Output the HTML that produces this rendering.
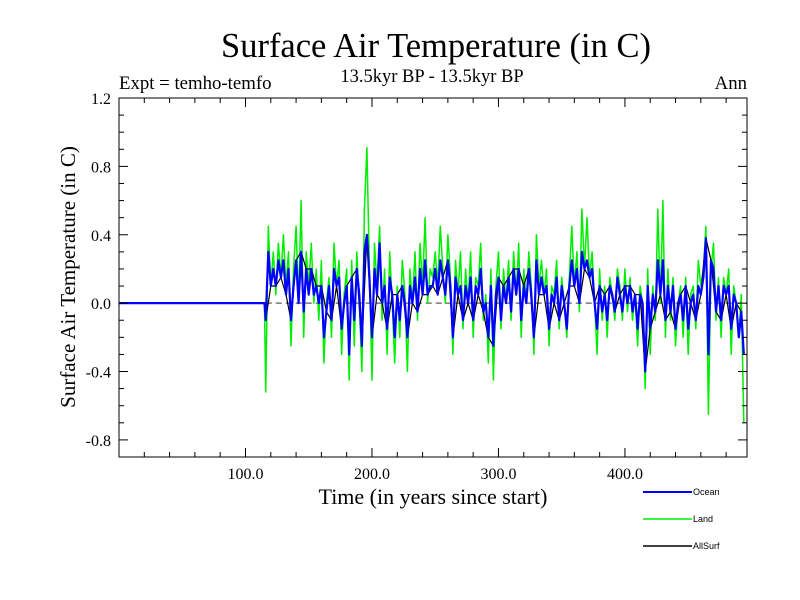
<!DOCTYPE html>
<html><head><meta charset="utf-8"><style>
body{margin:0;background:#fff;}
svg{display:block;}
</style></head><body>
<svg id="chart" width="800" height="600" xmlns="http://www.w3.org/2000/svg">
<text x="436" y="57" font-family="Liberation Serif, serif" font-size="34.5" text-anchor="middle">Surface Air Temperature (in C)</text>
<text x="432" y="82" font-family="Liberation Serif, serif" font-size="18.5" text-anchor="middle">13.5kyr BP - 13.5kyr BP</text>
<text x="119" y="89" font-family="Liberation Serif, serif" font-size="18.8">Expt = temho-temfo</text>
<text x="747" y="89" font-family="Liberation Serif, serif" font-size="18.8" text-anchor="end">Ann</text>
<text x="433" y="504" font-family="Liberation Serif, serif" font-size="22" text-anchor="middle">Time (in years since start)</text>
<text transform="translate(75,277) rotate(-90)" font-family="Liberation Serif, serif" font-size="21" text-anchor="middle">Surface Air Temperature (in C)</text>
<g id="plot"></g>
<g id="axes"></g>
<g id="legend" font-family="Liberation Sans, sans-serif" font-size="9">
<line x1="643" y1="492" x2="692" y2="492" stroke="#0000ff" stroke-width="2"/>
<text x="693" y="495">Ocean</text>
<line x1="643" y1="519" x2="692" y2="519" stroke="#00ee00" stroke-width="1.5"/>
<text x="693" y="522">Land</text>
<line x1="643" y1="546" x2="692" y2="546" stroke="#000" stroke-width="1.5"/>
<text x="693" y="549">AllSurf</text>
</g>
</svg>
<script>
const startYear = 116;
const stepYears = 2;
const land = [-0.52,0.45,0.1,0.3,0.05,0.35,0.15,0.4,0.1,0.3,
-0.25,0.2,0.45,0.0,0.6,-0.2,0.3,0.1,0.35,0.0,
0.2,-0.1,0.25,-0.35,0.0,0.15,-0.2,0.35,0.1,0.25,
-0.3,0.05,0.2,-0.45,0.25,-0.25,0.3,0.0,-0.4,0.55,
0.91,0.2,-0.45,0.35,0.1,0.45,-0.1,0.2,-0.3,0.3,
0.0,-0.35,0.1,-0.2,0.25,0.05,-0.4,0.2,0.0,0.3,
-0.1,0.35,0.1,0.5,0.0,0.2,0.15,0.3,0.1,0.45,
0.2,0.0,0.4,0.15,-0.3,0.25,0.05,0.3,-0.15,0.2,
0.0,0.3,-0.2,0.15,0.1,0.35,-0.1,0.05,-0.35,0.2,
-0.45,0.1,0.3,-0.15,0.2,0.0,0.25,-0.1,0.3,0.05,
0.35,-0.2,0.2,0.0,0.3,0.1,-0.3,0.4,0.1,0.25,
0.05,0.2,-0.25,0.1,0.05,0.25,-0.15,0.15,0.0,-0.2,
0.15,0.45,0.1,0.3,-0.05,0.55,0.2,0.5,0.15,0.3,
0.0,-0.3,0.2,-0.1,0.1,-0.2,0.15,0.05,-0.1,0.2,
0.1,-0.1,0.2,-0.05,0.15,-0.1,0.05,-0.25,0.1,0.0,
-0.5,0.2,-0.3,0.1,-0.1,0.55,0.0,0.6,-0.2,0.2,
-0.1,0.15,-0.25,0.0,0.1,-0.2,0.15,-0.3,0.05,0.1,
-0.15,0.25,0.1,0.2,0.45,-0.65,0.2,0.35,-0.1,0.15,
-0.2,0.15,0.05,0.2,-0.3,0.1,0.0,-0.2,0.05,-0.7];
const ocean = [-0.1,0.3,0.1,0.2,0.1,0.25,0.15,0.25,0.05,0.2,
-0.1,0.1,0.25,0.0,0.3,-0.05,0.2,0.05,0.2,0.05,
0.1,0.0,0.1,-0.2,-0.05,0.1,-0.1,0.2,0.1,0.15,
-0.15,0.0,0.1,-0.3,0.15,-0.1,0.2,0.05,-0.25,0.3,
0.4,0.15,-0.2,0.2,0.05,0.35,0.0,0.1,-0.15,0.15,
0.05,-0.2,0.05,-0.1,0.1,0.0,-0.2,0.1,0.0,0.15,
-0.05,0.2,0.05,0.25,0.05,0.1,0.1,0.2,0.05,0.25,
0.15,0.05,0.25,0.1,-0.2,0.15,0.05,0.1,-0.1,0.1,
0.0,0.15,-0.1,0.1,0.05,0.2,-0.05,0.0,-0.2,0.1,
-0.25,0.05,0.15,-0.1,0.1,0.0,0.15,-0.05,0.2,0.05,
0.2,-0.1,0.1,0.0,0.2,0.05,-0.2,0.25,0.05,0.15,
0.05,0.1,-0.15,0.05,0.0,0.15,-0.1,0.1,0.0,-0.15,
0.1,0.25,0.1,0.2,0.0,0.3,0.2,0.25,0.15,0.2,
0.0,-0.15,0.1,-0.05,0.05,-0.1,0.1,0.05,-0.05,0.15,
0.05,-0.05,0.1,0.0,0.1,-0.05,0.05,-0.15,0.05,0.0,
-0.4,0.1,-0.15,0.05,-0.05,0.25,0.05,0.25,-0.1,0.1,
-0.05,0.1,-0.15,0.0,0.05,-0.1,0.1,-0.15,0.0,0.05,
-0.1,0.1,0.05,0.15,0.38,-0.3,0.25,0.2,-0.05,0.1,
-0.1,0.1,0.05,0.1,-0.15,0.05,0.0,-0.2,-0.05,-0.3];
const allsurfStep = 4;
const allsurf = [-0.1,0.1,0.1,0.15,0.05,
-0.1,0.25,0.3,0.2,0.2,
0.1,0.1,-0.05,-0.1,0.1,
-0.15,0.1,0.15,0.2,-0.25,
0.4,-0.2,0.05,0.0,-0.15,
0.05,0.05,0.1,-0.2,0.0,
-0.05,0.05,0.05,0.1,0.05,
0.15,0.25,-0.2,0.05,-0.1,
0.0,-0.1,0.05,-0.05,-0.2,
-0.25,0.15,0.1,0.15,0.2,
0.2,0.1,0.2,-0.2,0.05,
0.05,-0.15,0.0,-0.1,0.0,
0.1,0.1,0.0,0.2,0.15,
0.0,0.1,0.05,0.1,-0.05,
0.05,0.1,0.1,0.05,0.05,
-0.4,-0.15,-0.05,0.05,-0.1,
-0.05,-0.15,0.05,0.1,0.0,
-0.1,0.05,0.38,0.25,-0.05,
-0.1,0.05,-0.15,0.0,-0.05];
const yTicks = [-0.8,-0.4,0.0,0.4,0.8,1.2];
const xTicks = [100,200,300,400];

const X0=119,X1=747,Y0=98,Y1=457;
const xMin=0,xMax=496.5,yMin=-0.9,yMax=1.2;
const sx=v=>X0+(v-xMin)/(xMax-xMin)*(X1-X0);
const sy=v=>Y1-(v-yMin)/(yMax-yMin)*(Y1-Y0);
const NS='http://www.w3.org/2000/svg';
const plot=document.getElementById('plot');
const axes=document.getElementById('axes');
function mk(tag,attrs,parent){const e=document.createElementNS(NS,tag);for(const k in attrs)e.setAttribute(k,attrs[k]);parent.appendChild(e);return e;}

const zl=mk('line',{x1:sx(startYear),x2:X1,y1:sy(0),y2:sy(0),stroke:'#777','stroke-width':1.5,'stroke-dasharray':'6,4'},plot);



function series(vals,step,color,w,name){
  let d='M'+sx(0)+','+sy(0)+' L'+sx(startYear-1)+','+sy(0);
  vals.forEach((v,i)=>{d+=' L'+sx(startYear+i*step).toFixed(1)+','+sy(v).toFixed(1);});
  const p=mk('path',{d:d,fill:'none',stroke:color,'stroke-width':w,'stroke-linejoin':'round'},plot);
  
  
}
series(land,stepYears,'#00ee00',1.5,'land-series');
series(allsurf,allsurfStep,'#000000',1.2,'allsurf-series');
series(ocean,stepYears,'#0000ff',2.2,'ocean-series');

const frame=mk('rect',{x:X0,y:Y0,width:X1-X0,height:Y1-Y0,fill:'none',stroke:'#000','stroke-width':1},axes);



for(let v=20;v<xMax;v+=20){
  const major=v%100===0, L=major?9:5, x=sx(v);
  mk('line',{x1:x,x2:x,y1:Y1,y2:Y1-L,stroke:'#000'},axes);
  mk('line',{x1:x,x2:x,y1:Y0,y2:Y0+L,stroke:'#000'},axes);
}
for(let i=-9;i<=12;i++){
  const v=i/10, major=(i%4===0), L=major?9:5, y=sy(v);
  mk('line',{x1:X0,x2:X0+L,y1:y,y2:y,stroke:'#000'},axes);
  mk('line',{x1:X1,x2:X1-L,y1:y,y2:y,stroke:'#000'},axes);
}
xTicks.forEach(v=>{
  const t=mk('text',{x:sx(v),y:Y1+22,'font-family':'Liberation Serif, serif','font-size':16,'text-anchor':'middle'},axes);
  t.textContent=v.toFixed(1);
  
  
});
yTicks.forEach(v=>{
  const t=mk('text',{x:X0-8,y:sy(v)+6,'font-family':'Liberation Serif, serif','font-size':16,'text-anchor':'end'},axes);
  t.textContent=v.toFixed(1);
  
  
});
</script>
</body></html>
